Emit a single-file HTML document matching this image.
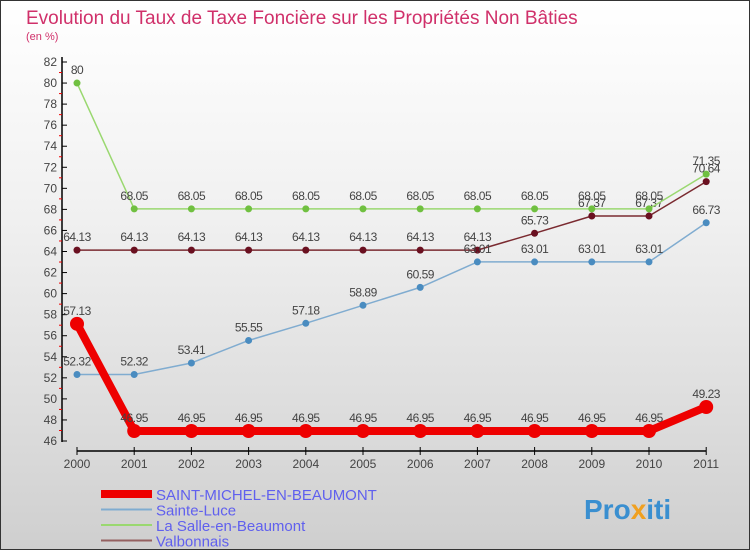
<!DOCTYPE html>
<html><head><meta charset="utf-8"><style>
body{margin:0}
#c{width:750px;height:550px;position:relative;background:linear-gradient(#fff,#f0f0f0 40%,#cfcfcf);border:1px solid #333;box-sizing:border-box;font-family:"Liberation Sans",sans-serif;overflow:hidden}
</style></head><body>
<div id="c">
<svg width="750" height="550" id="s" style="position:absolute;left:0;top:0" font-family="Liberation Sans, sans-serif">
<text x="25" y="23" font-size="19" fill="#d0306a">Evolution du Taux de Taxe Foncière sur les Propriétés Non Bâties</text>
<text x="25" y="39" font-size="11" fill="#d0306a">(en %)</text>
<g id="g"></g>
<text x="583" y="518" font-size="28" font-weight="bold" fill="#3a8fd0">Pro<tspan fill="#f0a020">x</tspan>iti</text>
</svg>
</div>
<script>
const years=[2000,2001,2002,2003,2004,2005,2006,2007,2008,2009,2010,2011];
const yTicks=[46,48,50,52,54,56,58,60,62,64,66,68,70,72,74,76,78,80,82];
const sNames=["SAINT-MICHEL-EN-BEAUMONT","Sainte-Luce","La Salle-en-Beaumont","Valbonnais"];
const sStMichel=[57.13,46.95,46.95,46.95,46.95,46.95,46.95,46.95,46.95,46.95,46.95,49.23];
const sSainteLuce=[52.32,52.32,53.41,55.55,57.18,58.89,60.59,63.01,63.01,63.01,63.01,66.73];
const sLaSalle=[80,68.05,68.05,68.05,68.05,68.05,68.05,68.05,68.05,68.05,68.05,71.35];
const sValbonnais=[64.13,64.13,64.13,64.13,64.13,64.13,64.13,64.13,65.73,67.37,67.37,70.64];
const X=i=>76+i*57.2, Y=v=>440-(v-46)*379/36;
const g=document.getElementById('g'),NS='http://www.w3.org/2000/svg';
function el(t,a,p){const e=document.createElementNS(NS,t);for(const k in a)e.setAttribute(k,a[k]);(p||g).appendChild(e);return e;}
let ax=el('line',{x1:61,y1:56,x2:61,y2:441,stroke:'#000','stroke-width':1.5});


yTicks.forEach((v,i)=>{el('line',{x1:61,x2:66,y1:Y(v),y2:Y(v),stroke:'#000'});
 if(i<yTicks.length-1)el('line',{x1:58,x2:61,y1:Y(v+1),y2:Y(v+1),stroke:'#e00'});
 const t=el('text',{x:56,y:Y(v)+4,'text-anchor':'end','font-size':12,fill:'#444'});t.textContent=v;
 
 });
let xa=el('line',{x1:76,y1:450,x2:X(11),y2:450,stroke:'#000','stroke-width':1.5});


years.forEach((y,i)=>{el('line',{x1:X(i),x2:X(i),y1:446,y2:454,stroke:'#000'});
 const t=el('text',{x:X(i),y:467,'text-anchor':'middle','font-size':12,fill:'#444'});t.textContent=y;
 
 });
const series=[[sValbonnais,'#7a2a30','#6a1020',1.5,3.5],[sLaSalle,'#9ad870','#70c040',1.5,3.5],[sSainteLuce,'#80acd0','#4a8cc0',1.5,3.5],[sStMichel,'#ee0000','#ee0000',8,7]];
series.forEach(([d,c,mc,w,r],si)=>{
 const pl=el('polyline',{points:d.map((v,i)=>X(i)+','+Y(v)).join(' '),fill:'none',stroke:c,'stroke-width':w,'stroke-linejoin':'round'});
 
 
 d.forEach((v,i)=>{const m=el('circle',{cx:X(i),cy:Y(v),r:r,fill:mc});
  
  
  const t=el('text',{x:X(i),y:Y(v)-9,'text-anchor':'middle','font-size':12,fill:'#444','letter-spacing':'-0.5'});t.textContent=v;
  
  });
});
const lc=['#ee0000','#80acd0','#9ad870','#946060'],lw=[8,2,2,2];
sNames.forEach((n,i)=>{const y=493+i*15.5;
 const l=el('line',{x1:100,x2:151,y1:y,y2:y,stroke:lc[i],'stroke-width':lw[i]});
 
 
 const t=el('text',{x:155,y:y+6,'font-size':15,fill:'#6060ee'});t.textContent=n;
 
 });
</script>
</body></html>
